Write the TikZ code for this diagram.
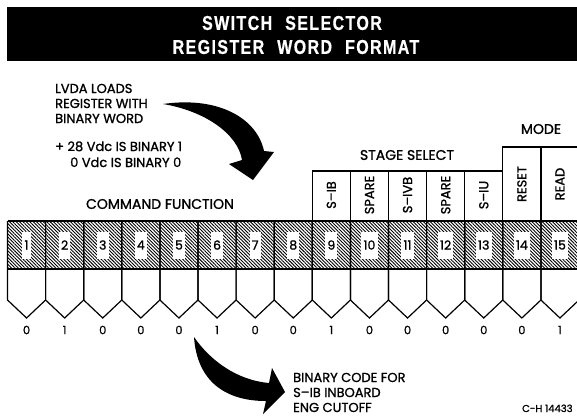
\documentclass[tikz,border=0pt]{standalone}
\usepackage{fontspec}
\setmainfont{Poppins}[FakeBold=1.2]
\newfontfamily\titlefont{Liberation Sans}[FakeStretch=0.8,LetterSpace=7,FakeBold=0.6]
\usetikzlibrary{patterns.meta}
\tikzset{
  lbl/.style={font=\fontsize{14}{16}\selectfont, inner sep=0pt},
  txt/.style={font=\fontsize{13}{15}\selectfont, inner sep=0pt, anchor=base west},
  rotlbl/.style={font=\fontsize{13}{15}\selectfont, inner sep=0pt, rotate=90},
  titletxt/.style={font=\titlefont\bfseries\fontsize{20}{22}\selectfont, text=white, inner sep=0pt},
  bitnum/.style={font=\fontsize{12.5}{14}\selectfont, fill=white, inner xsep=2.2pt, inner ysep=0pt, minimum height=27pt},
  bitval/.style={font=\fontsize{11.5}{13}\selectfont, inner sep=0pt},
  gridline/.style={line width=1.2pt},
  bandline/.style={line width=1.8pt},
  swoosh/.style={fill=black},
}
\begin{document}
\begin{tikzpicture}[x=1pt,y=-1pt]
\useasboundingbox (0,0) rectangle (577,416);
\clip (0,0) rectangle (577,416);

% title bar
\fill[black] (7,7) rectangle (590,61);
\node[titletxt] (t1) at (292,23) {SWITCH\hspace{13pt}SELECTOR};
\node[titletxt] (t2) at (296,47) {REGISTER\hspace{13pt}WORD\hspace{13pt}FORMAT};

% left text
\node[txt] (l1) at (55,93) {LVDA LOADS};
\node[txt] (l2) at (55,108) {REGISTER WITH};
\node[txt] (l3) at (55,123) {BINARY WORD};
\node[txt] (l4) at (55,151) {+ 28 Vdc IS BINARY 1};
\node[txt] (l5) at (70,167) {0 Vdc IS BINARY 0};

% top arrow
\fill[swoosh] (163,104) .. controls (218,96) and (257,118) .. (264,151)
  -- (274,152) -- (253,180) -- (229,164) -- (242,160)
  .. controls (238,134) and (205,111) .. cycle;

% group labels
\node[lbl] (cf) at (160,204) {COMMAND FUNCTION};
\node[lbl] (ss) at (407,155) {STAGE SELECT};
\node[lbl] (md) at (541,129) {MODE};

% hatched band
\fill[pattern={Lines[angle=-45,distance=2.4pt,line width=0.9pt]}] (7.5,221) rectangle (590,269);

% cells
\foreach \i/\b in {1/0,2/1,3/0,4/0,5/0,6/1,7/0,8/0,9/1,10/0,11/0,12/0,13/0,14/0,15/1}{
  \pgfmathsetmacro\L{7.5+38.1*(\i-1)}
  \pgfmathsetmacro\C{\L+19.05}
  \pgfmathsetmacro\R{\L+38.1}
  \draw[gridline] (\L,221) -- (\L,300) -- (\C,318) -- (\R,300) -- (\R,221);
  \node[bitnum] (n\i) at (\C,245) {\i};
  \node[bitval] (b\i) at (\C,330) {\b};
}
\draw[bandline] (7.5,221) -- (590,221);
\draw[bandline] (7.5,269) -- (590,269);

% stage select boxes
\draw[gridline] (312.3,221) -- (312.3,171) -- (502.8,171);
\foreach \x in {350.4,388.5,426.6,464.7}{ \draw[gridline] (\x,171) -- (\x,221); }
% mode boxes
\draw[gridline] (502.8,221) -- (502.8,147) -- (590,147);
\draw[gridline] (540.9,147) -- (540.9,221);

\node[rotlbl] (s9) at (331.35,195) {S–IB};
\node[rotlbl] (s10) at (369.45,195) {SPARE};
\node[rotlbl] (s11) at (407.55,195) {S–IVB};
\node[rotlbl] (s12) at (445.65,195) {SPARE};
\node[rotlbl] (s13) at (483.75,195) {S–IU};
\node[rotlbl] (m14) at (521.85,184) {RESET};
\node[rotlbl] (m15) at (559.95,184) {READ};

% bottom arrow
\fill[swoosh] (194,337) .. controls (197,381) and (225,401) .. (266,401)
  -- (263,414) -- (285,392) -- (272,368) -- (269,383)
  .. controls (236,380) and (210,360) .. cycle;

% bottom text
\node[txt] (r1) at (293,382) {BINARY CODE FOR};
\node[txt] (r2) at (293,397) {S–IB INBOARD};
\node[txt] (r3) at (293,412) {ENG CUTOFF};
\node[txt, font=\fontsize{10}{12}\selectfont] (ch) at (522,412) {C-H 14433};
\end{tikzpicture}
\end{document}
